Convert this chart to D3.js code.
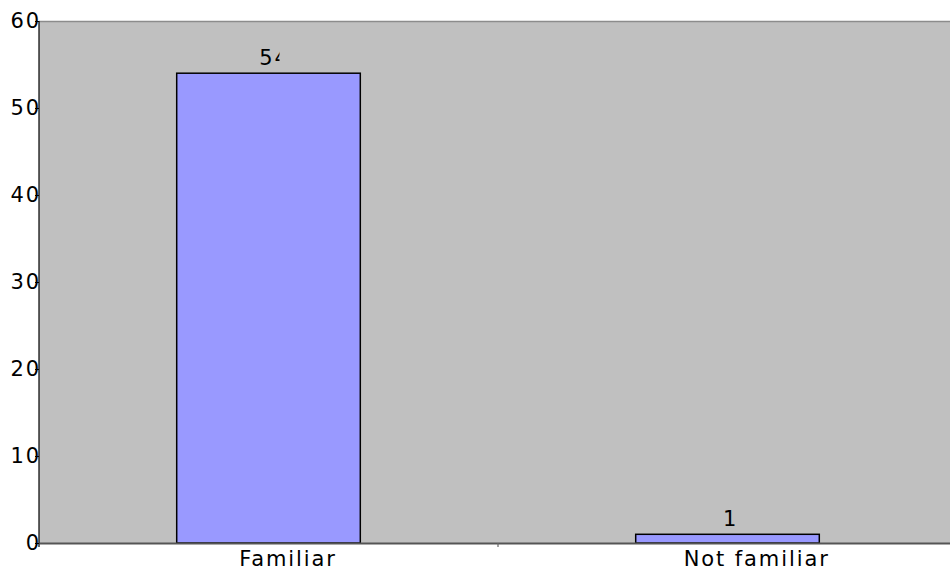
<!DOCTYPE html>
<html>
<head>
<meta charset="utf-8">
<script src="https://cdn.jsdelivr.net/npm/d3@7"></script>
<style>
  html, body { margin: 0; padding: 0; background: #fff; }
  svg { display: block; }
  text { font-family: "DejaVu Sans", Verdana, sans-serif; font-size: 21px; letter-spacing: 1.9px; fill: #000; }
</style>
</head>
<body>
<svg id="chart" width="950" height="572"></svg>
<script>
const categories = ["Familiar", "Not familiar"];
const counts = [54, 1];
const yTicks = [0, 10, 20, 30, 40, 50, 60];

const svg = d3.select("#chart");
const plotLeft = 39, plotTop = 21, plotBottom = 543, plotRight = 957;

const x = d3.scaleBand().domain(categories).range([plotLeft, plotRight])
  .paddingInner(0.6).paddingOuter(0.3);
const y = d3.scaleLinear().domain([0, 60]).range([plotBottom, plotTop]);

// plot background
svg.append("rect")
  .attr("x", plotLeft).attr("y", plotTop)
  .attr("width", plotRight - plotLeft).attr("height", plotBottom - plotTop)
  .attr("fill", "#c0c0c0");
svg.append("line")
  .attr("x1", plotLeft).attr("x2", plotRight).attr("y1", plotTop + 0.5).attr("y2", plotTop + 0.5)
  .attr("stroke", "#8c8c8c").attr("stroke-width", 1.5);

// bars
svg.selectAll("rect.bar").data(categories).join("rect")
  .attr("class", "bar")
  .attr("x", d => x(d))
  .attr("y", (d, i) => y(counts[i]))
  .attr("width", x.bandwidth())
  .attr("height", (d, i) => y(0) - y(counts[i]))
  .attr("fill", "#9999ff")
  .attr("stroke", "#000").attr("stroke-width", 1.5);

// x axis
const xAxis = svg.append("g").attr("transform", `translate(0,${plotBottom})`)
  .call(d3.axisBottom(x).tickSize(0).tickFormat(""));
xAxis.select(".domain").attr("stroke", "#555").attr("stroke-width", 2);
// divider tick between the categories
const mid = x.step() + plotLeft;
svg.append("line").attr("x1", mid).attr("x2", mid).attr("y1", plotBottom).attr("y2", plotBottom + 4)
  .attr("stroke", "#666").attr("stroke-width", 1.2);

// category labels
svg.selectAll("text.cat").data(categories).join("text")
  .attr("class", "cat")
  .attr("y", 566)
  .text(d => d)
  .attr("x", function(d) {
    const c = x(d) + x.bandwidth() / 2;
    return c - 0.3 * this.getComputedTextLength();
  });

// y axis
const yAxis = svg.append("g").attr("transform", `translate(${plotLeft},0)`)
  .call(d3.axisLeft(y).tickValues(yTicks).tickSize(4).tickPadding(0).tickFormat(d3.format("d")));
yAxis.select(".domain").remove();
svg.append("line").attr("x1", plotLeft).attr("x2", plotLeft).attr("y1", plotTop).attr("y2", plotBottom + 4)
  .attr("stroke", "#000").attr("stroke-width", 1.2);
yAxis.selectAll(".tick line").attr("stroke", "#000");
yAxis.selectAll(".tick text")
  .attr("x", 2).attr("dy", null).attr("y", 6)
  .style("font-size", "21px").style("font-family", "DejaVu Sans, Verdana, sans-serif")
  .attr("fill", "#000");

// value labels, clipped to a small box above each bar
const defs = svg.append("defs");
categories.forEach((d, i) => {
  const c = x(d) + x.bandwidth() / 2;
  defs.append("clipPath").attr("id", "vclip" + i)
    .append("rect").attr("x", c - 20).attr("y", y(counts[i]) - 30)
    .attr("width", 31).attr("height", 30);
});
svg.selectAll("text.val").data(categories).join("text")
  .attr("class", "val")
  .attr("clip-path", (d, i) => `url(#vclip${i})`)
  .attr("y", (d, i) => y(counts[i]) - 8)
  .text((d, i) => counts[i])
  .attr("x", function(d) {
    const c = x(d) + x.bandwidth() / 2;
    return c - 0.3 * this.getComputedTextLength();
  });
</script>
</body>
</html>
